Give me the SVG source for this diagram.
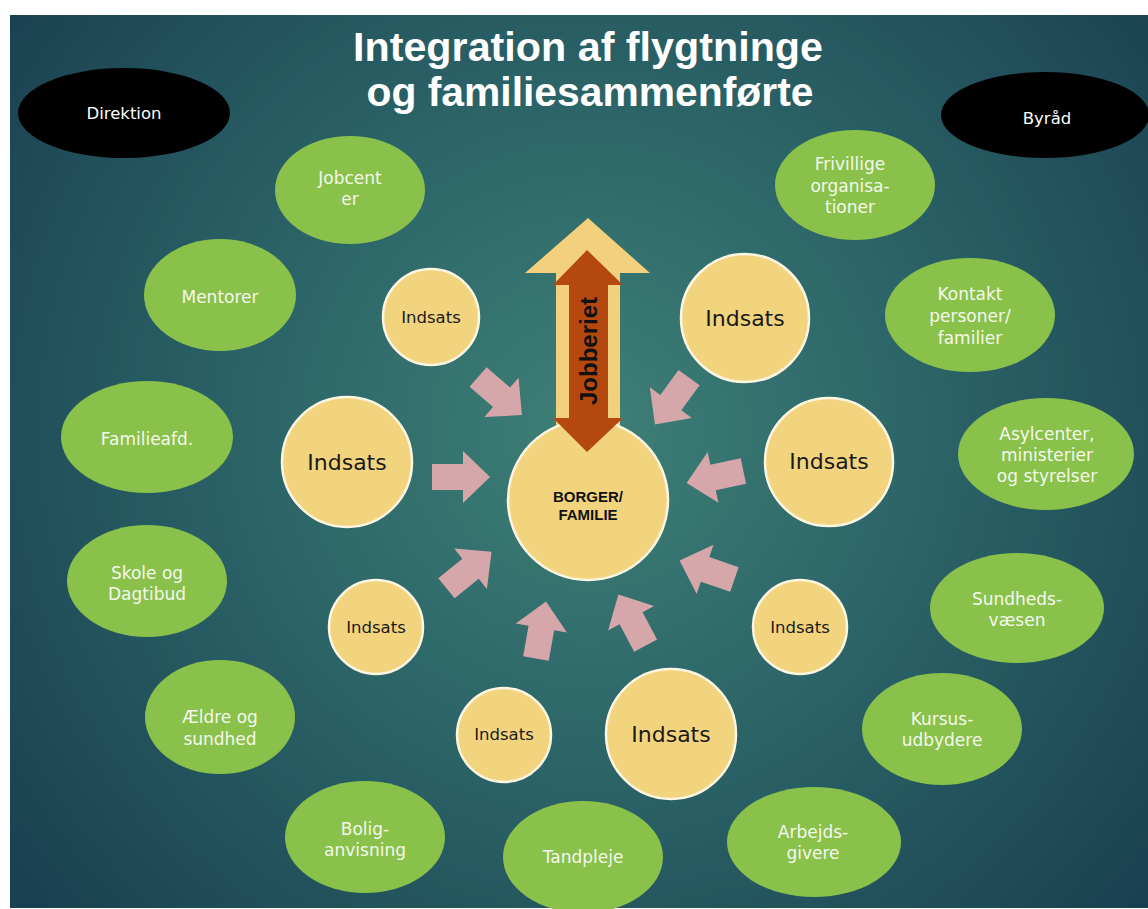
<svg xmlns="http://www.w3.org/2000/svg" width="1148" height="909" viewBox="0 0 1148 909">
<defs>
<radialGradient id="bg" gradientUnits="userSpaceOnUse" cx="590" cy="430" r="720">
<stop offset="0" stop-color="#3e8076"/>
<stop offset="0.45" stop-color="#2c6568"/>
<stop offset="1" stop-color="#1a4151"/>
</radialGradient>
<polygon id="pa" points="-29,-13 2,-13 2,-26 29,0 2,26 2,13 -29,13"/>
<style>
.green{fill:#89c14b}
.black{fill:#000}
.yel{fill:#f2d47f;stroke:#fbf6e2;stroke-width:2.5}
.gt{font-family:"DejaVu Sans","Liberation Sans",sans-serif;font-size:17px;fill:#f4f8ec;text-anchor:middle}
.wt{font-family:"DejaVu Sans","Liberation Sans",sans-serif;font-size:16.5px;fill:#ffffff;text-anchor:middle}
.ys{font-family:"DejaVu Sans","Liberation Sans",sans-serif;font-size:16.5px;fill:#1a1a1a;text-anchor:middle}
.yb{font-family:"DejaVu Sans","Liberation Sans",sans-serif;font-size:22px;fill:#1a1a1a;text-anchor:middle}
.title{font-family:"Liberation Sans",Arial,sans-serif;font-weight:bold;font-size:40px;fill:#ffffff;text-anchor:middle}
.pink{fill:#d5a7ab}
</style>
</defs>
<rect x="0" y="0" width="1148" height="909" fill="#ffffff"/>
<rect x="10" y="15" width="1138" height="893" fill="url(#bg)"/>

<g id="title">
<text class="title" x="588" y="61" textLength="470" lengthAdjust="spacingAndGlyphs">Integration af flygtninge</text>
<text class="title" x="590" y="106" textLength="447" lengthAdjust="spacingAndGlyphs">og familiesammenførte</text>
</g>

<g id="direktion"><ellipse class="black" cx="124" cy="113" rx="106" ry="45"/><text class="wt" x="124" y="119">Direktion</text></g>
<g id="byraad"><ellipse class="black" cx="1045" cy="115" rx="104" ry="43"/><text class="wt" x="1047" y="124">Byråd</text></g>

<g id="jobcenter"><ellipse class="green" cx="350" cy="190" rx="75" ry="54"/><text class="gt" x="350" y="184">Jobcent</text><text class="gt" x="350" y="205">er</text></g>
<g id="frivillige"><ellipse class="green" cx="855" cy="185" rx="80" ry="55"/><text class="gt" x="850" y="170">Frivillige</text><text class="gt" x="850" y="192">organisa-</text><text class="gt" x="850" y="213">tioner</text></g>
<g id="mentorer"><ellipse class="green" cx="220" cy="295" rx="76" ry="56"/><text class="gt" x="220" y="303">Mentorer</text></g>
<g id="kontakt"><ellipse class="green" cx="970" cy="315" rx="85" ry="57"/><text class="gt" x="970" y="300">Kontakt</text><text class="gt" x="970" y="322">personer/</text><text class="gt" x="970" y="344">familier</text></g>
<g id="familieafd"><ellipse class="green" cx="147" cy="437" rx="86" ry="56"/><text class="gt" x="147" y="445">Familieafd.</text></g>
<g id="asylcenter"><ellipse class="green" cx="1046" cy="454" rx="88" ry="56"/><text class="gt" x="1047" y="440">Asylcenter,</text><text class="gt" x="1047" y="461">ministerier</text><text class="gt" x="1047" y="482">og styrelser</text></g>
<g id="skole"><ellipse class="green" cx="147" cy="581" rx="80" ry="56"/><text class="gt" x="147" y="579">Skole og</text><text class="gt" x="147" y="600">Dagtibud</text></g>
<g id="sundhedsvaesen"><ellipse class="green" cx="1017" cy="608" rx="87" ry="55"/><text class="gt" x="1017" y="605">Sundheds-</text><text class="gt" x="1017" y="626">væsen</text></g>
<g id="aeldre"><ellipse class="green" cx="220" cy="717" rx="75" ry="57"/><text class="gt" x="220" y="723">Ældre og</text><text class="gt" x="220" y="745">sundhed</text></g>
<g id="kursus"><ellipse class="green" cx="942" cy="729" rx="80" ry="56"/><text class="gt" x="942" y="725">Kursus-</text><text class="gt" x="942" y="746">udbydere</text></g>
<g id="bolig"><ellipse class="green" cx="365" cy="837" rx="80" ry="56"/><text class="gt" x="365" y="835">Bolig-</text><text class="gt" x="365" y="856">anvisning</text></g>
<g id="tandpleje"><ellipse class="green" cx="583" cy="857" rx="80" ry="56"/><text class="gt" x="583" y="863">Tandpleje</text></g>
<g id="arbejdsgivere"><ellipse class="green" cx="814" cy="842" rx="87" ry="55"/><text class="gt" x="813" y="838">Arbejds-</text><text class="gt" x="813" y="859">givere</text></g>

<g id="indsats1"><circle class="yel" cx="431" cy="317" r="48"/><text class="ys" x="431" y="323">Indsats</text></g>
<g id="indsats2"><circle class="yel" cx="745" cy="318" r="64"/><text class="yb" x="745" y="326">Indsats</text></g>
<g id="indsats3"><circle class="yel" cx="347" cy="462" r="65"/><text class="yb" x="347" y="470">Indsats</text></g>
<g id="indsats4"><circle class="yel" cx="829" cy="462" r="64"/><text class="yb" x="829" y="469">Indsats</text></g>
<g id="indsats5"><circle class="yel" cx="376" cy="627" r="47"/><text class="ys" x="376" y="633">Indsats</text></g>
<g id="indsats6"><circle class="yel" cx="800" cy="627" r="47"/><text class="ys" x="800" y="633">Indsats</text></g>
<g id="indsats7"><circle class="yel" cx="504" cy="735" r="47"/><text class="ys" x="504" y="740">Indsats</text></g>
<g id="indsats8"><circle class="yel" cx="671" cy="734" r="65"/><text class="yb" x="671" y="742">Indsats</text></g>

<g id="connectors">
<use href="#pa" class="pink" transform="translate(500,396) rotate(41)"/>
<use href="#pa" class="pink" transform="translate(672,401) rotate(126)"/>
<use href="#pa" class="pink" transform="translate(461,477)"/>
<use href="#pa" class="pink" transform="translate(715,477) rotate(168)"/>
<use href="#pa" class="pink" transform="translate(469,570) rotate(-39)"/>
<use href="#pa" class="pink" transform="translate(707,570) rotate(199)"/>
<use href="#pa" class="pink" transform="translate(541,630) rotate(-80)"/>
<use href="#pa" class="pink" transform="translate(632,620) rotate(-118)"/>
</g>

<g id="jobberiet-up">
<polygon points="588,218 650,273 620,273 620,430 556,430 556,273 525,273" fill="#f3d07e"/>
</g>
<g id="borger">
<circle cx="588" cy="500" r="80" fill="#f2d47f" stroke="#fbf6e2" stroke-width="2.5"/>
<text x="588" y="502" font-family="Liberation Sans, Arial, sans-serif" font-weight="bold" font-size="15" fill="#111" text-anchor="middle">BORGER/</text>
<text x="588" y="520" font-family="Liberation Sans, Arial, sans-serif" font-weight="bold" font-size="15" fill="#111" text-anchor="middle">FAMILIE</text>
</g>
<g id="jobberiet">
<polygon points="587,250 623,285 608,285 608,418 623,418 587,452 553,418 569,418 569,285 553,285" fill="#b4480f"/>
<text x="0" y="0" transform="translate(597,351) rotate(-90)" font-family="Liberation Sans, Arial, sans-serif" font-weight="bold" font-size="24" fill="#111" text-anchor="middle">Jobberiet</text>
</g>
</svg>
